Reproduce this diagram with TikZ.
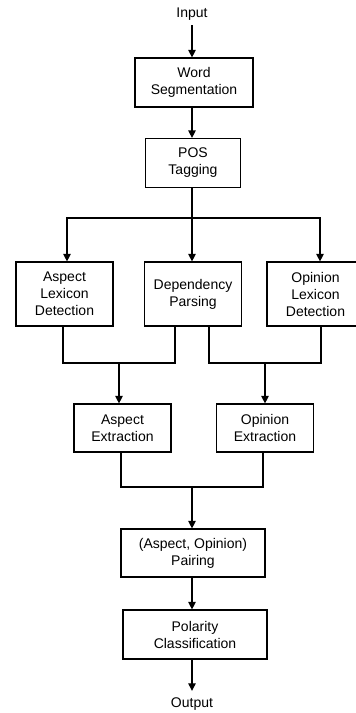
\documentclass[tikz,border=0pt]{standalone}
\usepackage{fontspec}
\setmainfont{Liberation Sans}
\usetikzlibrary{arrows.meta}
\begin{document}
\begin{tikzpicture}[x=1pt,y=-1pt,
  box/.style={draw, line width=1.2pt, align=center, inner sep=0pt, font=\fontsize{14}{17}\selectfont},
  lbl/.style={inner sep=0pt, font=\fontsize{14}{17}\selectfont},
  ln/.style={line width=1.2pt},
  arr/.style={line width=1.2pt, -{Triangle[length=7.5pt,width=7.5pt]}}]
\useasboundingbox (0,0) rectangle (356,713);
\clip (0,0) rectangle (356,713);
% nodes
\node[lbl, minimum height=22pt] (in) at (192,14) {Input};
\node[box, minimum width=118pt, minimum height=49pt] (ws) at (194,82.5) {Word\\Segmentation};
\node[box, minimum width=95pt, minimum height=49pt] (pos) at (193,163) {POS\\Tagging};
\node[box, minimum width=97pt, minimum height=64pt] (al) at (64.5,294) {Aspect\\Lexicon\\Detection};
\node[box, minimum width=97pt, minimum height=64pt] (dep) at (193,294) {Dependency\\Parsing};
\node[box, minimum width=97pt, minimum height=64pt] (op) at (315.5,294) {Opinion\\Lexicon\\Detection};
\node[box, minimum width=97pt, minimum height=48pt] (ae) at (122.5,428) {Aspect\\Extraction};
\node[box, minimum width=97pt, minimum height=48pt] (oe) at (265,428) {Opinion\\Extraction};
\node[box, minimum width=144pt, minimum height=48pt] (pair) at (193,553) {(Aspect, Opinion)\\Pairing};
\node[box, minimum width=144pt, minimum height=49pt] (pol) at (195,634.5) {Polarity\\Classification};
\node[lbl, minimum height=26pt] (out) at (192,704) {Output};
% junction points
\coordinate (sp) at (192,218);
\coordinate (j1) at (119,363);
\coordinate (j2) at (265,363);
\coordinate (j3) at (192,487);
% connectors
\draw[arr] (in.south) -- (in.south |- ws.north);
\draw[arr] (in.south |- ws.south) -- (in.south |- pos.north);
\draw[arr] (sp |- pos.south) -- (sp |- dep.north);
\draw[arr] (sp) -| ([xshift=2.5pt]al.north);
\draw[arr] (sp) -| ([xshift=4.5pt]op.north);
\draw[ln] ([xshift=-1.5pt]al.south) |- (j1) -| ([xshift=-18pt]dep.south);
\draw[ln] ([xshift=16pt]dep.south) |- (j2) -| ([xshift=5.5pt]op.south);
\draw[arr] (j1) -- (j1 |- ae.north);
\draw[arr] (j2) -- (j2 |- oe.north);
\draw[ln] ([xshift=-1.5pt]ae.south) |- (j3) -| ([xshift=-2pt]oe.south);
\draw[arr] (j3) -- (j3 |- pair.north);
\draw[arr] (j3 |- pair.south) -- (j3 |- pol.north);
\draw[arr] (out.north |- pol.south) -- (out.north);
\end{tikzpicture}
\end{document}
